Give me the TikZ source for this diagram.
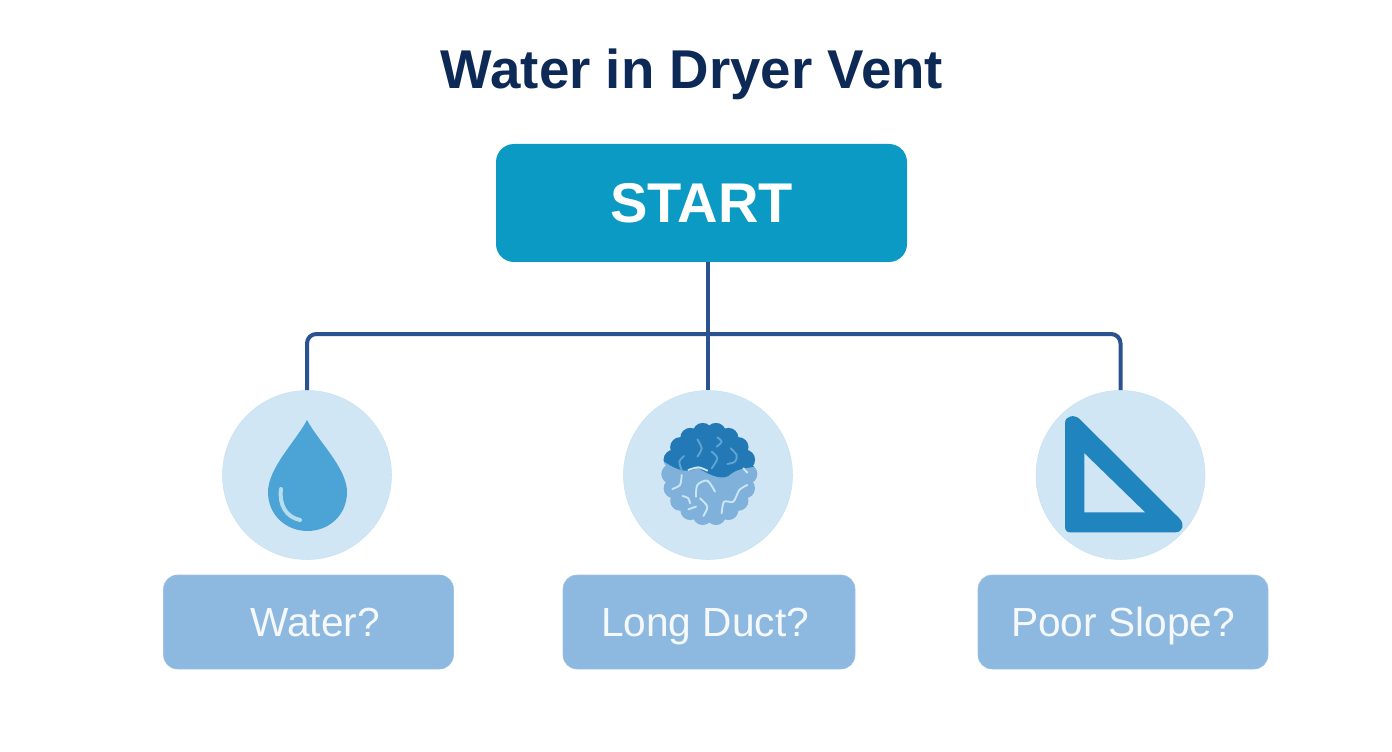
\documentclass[tikz,border=0pt]{standalone}
\usepackage{fontspec}
\setmainfont{Liberation Sans}
\definecolor{titleink}{HTML}{0D2A57}
\definecolor{startblue}{HTML}{0A9AC4}
\definecolor{linkblue}{HTML}{2A5291}
\definecolor{paleblue}{HTML}{D0E6F4}
\definecolor{labelblue}{HTML}{8DB8DF}
\definecolor{dropblue}{HTML}{4BA3D6}
\definecolor{shineblue}{HTML}{B5DCEF}
\definecolor{lintdark}{HTML}{2279B5}
\definecolor{lintlight}{HTML}{7FB1DB}
\definecolor{lintline}{HTML}{5EA5D4}
\definecolor{rulerblue}{HTML}{2084BE}
\tikzset{
	startbox/.style={fill=startblue,rounded corners=13.5pt,minimum width=308.25pt,minimum height=88.5pt,text=white,font=\fontsize{42}{42}\bfseries\selectfont},
	iconball/.style={circle,fill=paleblue,draw=paleblue!90!lintlight,thin,minimum size=126.75pt,inner sep=0pt},
	askbox/.style={fill=labelblue,draw=labelblue!85!white,thin,rounded corners=10.5pt,minimum height=70.5pt,text height=22pt,text depth=0pt,text=white!92!labelblue,font=\fontsize{30.5}{30.5}\selectfont},
	link/.style={draw=linkblue,line width=3pt},
	squigdark/.style={draw=lintline,line width=1.4pt,line cap=round,line join=round},
	squiglight/.style={draw=shineblue!70!white,line width=1.4pt,line cap=round,line join=round}
}
\begin{document}
\begin{tikzpicture}[x=.75pt,y=-.75pt,line join=round]
	\useasboundingbox (0,0) rectangle (1392,752);
	\node[text=titleink,font=\fontsize{41}{41}\bfseries\selectfont] (title) at (692,74) {Water in Dryer Vent};
	\node[startbox] (start) at (701.5,203) {START};
	\coordinate (hub) at (708,334);
	% links first, the balls sit over their ends
	\node[iconball] (ballwater) at (307,475) {};
	\node[iconball] (ballduct) at (708,475) {};
	\node[iconball] (ballslope) at (1120.5,475) {};
	\draw[link] (start.south -| hub) -- (ballduct.north);
	\draw[link,rounded corners=7pt] (ballwater.north) |- (hub) -| (ballslope.north);
	\node[askbox,minimum width=217.5pt] (askwater) at (308.5,622) {\kern10pt Water?};
	\node[askbox,minimum width=219pt] (askduct) at (709,622) {\kern-6pt Long Duct?};
	\node[askbox,minimum width=217.5pt] (askslope) at (1123,622) {Poor Slope?};
	% water drop
	\fill[dropblue] (307,420) .. controls (296,441) and (268,468) .. (268,492)
		.. controls (268,515) and (286,531) .. (307.5,531)
		.. controls (329,531) and (347,515) .. (347,492)
		.. controls (347,468) and (318,441) .. (307,420) -- cycle;
	\draw[draw=shineblue,line width=3pt,line cap=round] (281,489) .. controls (279,505) and (286,517) .. (300,520);
	% lint ball
	\begin{scope}[shift={(620,390)},x=.25pt,y=-.25pt]
		\fill[lintlight] (268,252) ellipse (125 and 135);
		\foreach \a in {0,20,...,340}
			\fill[lintlight] (268,252)+(\a:114 and 125) circle (30);
		\begin{scope}
			\clip (100,60) -- (440,60) -- (440,230) -- (410,230) .. controls (370,232) and (345,240) .. (325,258)
				.. controls (300,272) and (260,250) .. (232,232) .. controls (210,250) and (180,245) .. (133,215) -- (100,215) -- cycle;
			\fill[lintdark] (268,252) ellipse (125 and 135);
			\foreach \a in {0,20,...,340}
				\fill[lintdark] (268,252)+(\a:114 and 125) circle (30);
		\end{scope}
		\foreach \pts in {
			{(232,148)(245,175)(232,200)},
			{(292,142)(305,155)(290,170)},
			{(275,185)(292,205)(275,235)},
			{(332,175)(350,195)(345,215)(322,222)},
			{(192,198)(178,215)(185,240)}}
			\draw[squigdark] plot[smooth] coordinates \pts;
		\foreach \pts in {
			{(185,255)(180,285)(157,297)},
			{(205,240)(235,232)(262,242)},
			{(228,320)(232,285)(262,272)(285,305)},
			{(188,318)(205,325)(210,340)},
			{(205,358)(228,350)},
			{(240,325)(262,350)(250,378)},
			{(305,370)(312,335)(340,335)(358,300)(382,285)},
			{(370,235)(382,248)}}
			\draw[squiglight] plot[smooth] coordinates \pts;
	\end{scope}
	% set square
	\begin{scope}[shift={(1030,320)},x=.25pt,y=-.25pt]
		\fill[rulerblue] (105,310) .. controls (105,285) and (135,283) .. (150,298) -- (448,595)
			.. controls (465,612) and (460,637) .. (435,637) -- (120,637)
			.. controls (110,637) and (105,630) .. (105,620) -- cycle;
		\fill[paleblue] (163,400) -- (345,577) -- (163,577) -- cycle;
	\end{scope}
\end{tikzpicture}
\end{document}
